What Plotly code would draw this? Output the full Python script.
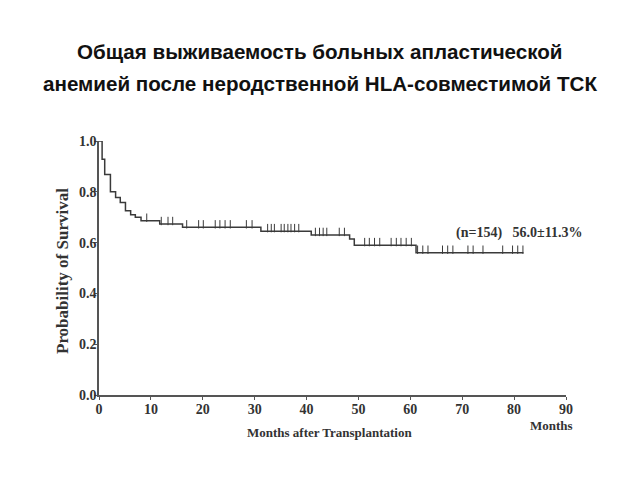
import plotly.graph_objects as go

# Kaplan-Meier step curve (event times in months, survival probability after the step)
step_times = [0, 0.6, 1.1, 2.2, 3.2, 4.1, 5.1, 6.1, 7.0, 8.1, 11.7, 16.1, 31.2, 40.9, 48.3, 49.2, 61.1, 81.8]
step_surv = [1.0, 0.928, 0.868, 0.80, 0.778, 0.758, 0.725, 0.71, 0.70, 0.686, 0.673, 0.66, 0.645, 0.63, 0.614, 0.59, 0.56, 0.56]

# censored observations (months)
censor_times = [9.2, 12.0, 13.3, 14.2, 16.9, 19.2, 20.1, 22.4, 23.3, 24.3, 25.3, 28.4,
                29.5, 32.5, 33.2, 33.8, 35.1, 35.7, 36.4, 37.0, 37.7, 38.5,
                41.7, 42.5, 43.2, 43.9, 46.3, 47.3,
                51.2, 52.1, 53.1, 54.1, 56.3, 57.3, 58.2, 59.2, 60.2,
                61.4, 62.4, 63.4, 66.2, 67.2, 68.2, 71.1, 72.1, 74.0, 77.8, 79.7, 80.7, 81.7]

x_ticks = [0, 10, 20, 30, 40, 50, 60, 70, 80, 90]
y_ticks = [0.0, 0.2, 0.4, 0.6, 0.8, 1.0]


def surv_at(t):
    s = step_surv[0]
    for tt, ss in zip(step_times, step_surv):
        if tt <= t:
            s = ss
    return s


censor_y = [surv_at(t) + 0.012 for t in censor_times]

line_col = "#3a3a3a"
serif = "Liberation Serif"
txt_col = "#333"

fig = go.Figure()
fig.add_trace(go.Scatter(x=step_times, y=step_surv, mode="lines",
                         line=dict(shape="hv", color=line_col, width=1.5),
                         hoverinfo="skip", showlegend=False))
fig.add_trace(go.Scatter(x=censor_times, y=censor_y, mode="markers",
                         marker=dict(symbol="line-ns", size=6,
                                     line=dict(color=line_col, width=1)),
                         hoverinfo="skip", showlegend=False))

fig.update_layout(
    width=640, height=480,
    margin=dict(l=99, r=74, t=141, b=85),
    paper_bgcolor="white", plot_bgcolor="white",
    font=dict(family=serif, size=13, color=txt_col),
    xaxis=dict(range=[0, 90], tickvals=x_ticks, ticktext=[str(v) for v in x_ticks],
               showgrid=False, zeroline=False, showline=True, linecolor="#555", linewidth=1.5,
               ticks="outside", ticklen=3, tickcolor="#555", ticklabelstandoff=-3,
               tickfont=dict(family=serif, size=14, color=txt_col, weight="bold")),
    yaxis=dict(range=[0, 1.0], tickvals=y_ticks, ticktext=["%.1f" % v for v in y_ticks],
               showgrid=False, zeroline=False, showline=True, linecolor="#555", linewidth=1.5,
               ticks="outside", ticklen=3, tickcolor="#555", ticklabelstandoff=-5,
               tickfont=dict(family=serif, size=14, color=txt_col, weight="bold")),
)

# Title (two lines)
title_lines = ["Общая выживаемость больных апластической",
               "анемией после неродственной HLA-совместимой ТСК"]
title_y = [52, 84]
for line, ypx in zip(title_lines, title_y):
    fig.add_annotation(text=line, xref="paper", yref="paper",
                       x=(320 - 99) / 467, y=(480 - 85 - ypx) / 254,
                       xanchor="center", yanchor="middle", showarrow=False,
                       font=dict(family="Liberation Sans", size=20.6, color="#111", weight="bold"))

fig.add_annotation(text="(n=154)   56.0±11.3%", x=81, y=0.638, xref="x", yref="y",
                   xanchor="center", yanchor="middle", showarrow=False,
                   font=dict(family=serif, size=14, color=txt_col, weight="bold"))

fig.add_annotation(text="Months after Transplantation", xref="x", yref="paper", x=44.5, y=0,
                   yshift=-37, xanchor="center", yanchor="middle", showarrow=False,
                   font=dict(family=serif, size=13, color=txt_col, weight="bold"))
fig.add_annotation(text="Months", xref="x", yref="paper", x=87.3, y=0,
                   yshift=-30, xanchor="center", yanchor="middle", showarrow=False,
                   font=dict(family=serif, size=13, color=txt_col, weight="bold"))
fig.add_annotation(text="Probability of Survival", xref="paper", yref="paper", x=0, y=(395 - 271) / 254,
                   xshift=-37, textangle=-90, xanchor="center", yanchor="middle", showarrow=False,
                   font=dict(family=serif, size=17, color=txt_col, weight="bold"))

fig.write_html("out.html")
